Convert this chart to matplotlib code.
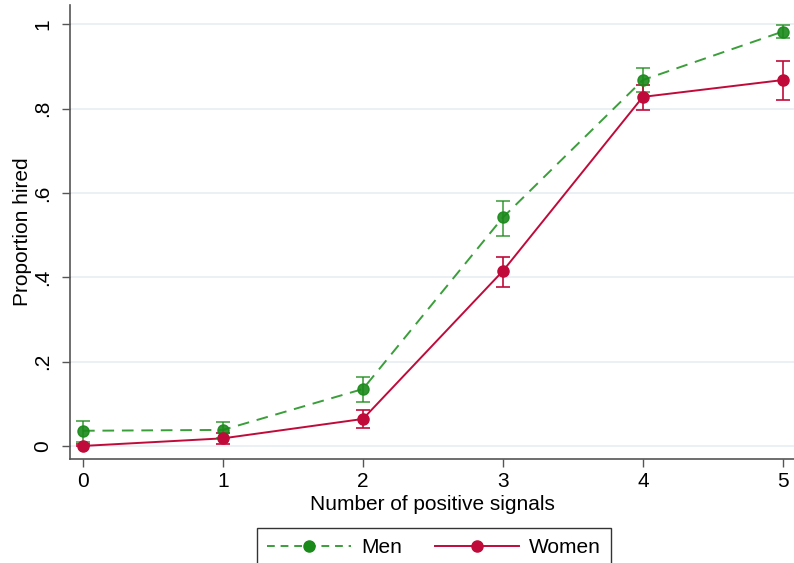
import numpy as np
import matplotlib.pyplot as plt

plt.rcParams["font.family"] = ["Liberation Sans", "DejaVu Sans"]

signals = [0, 1, 2, 3, 4, 5]

men = [0.036, 0.038, 0.135, 0.542, 0.868, 0.983]
men_lo = [0.010, 0.020, 0.104, 0.499, 0.840, 0.967]
men_hi = [0.060, 0.056, 0.164, 0.582, 0.897, 0.999]

women = [0.000, 0.018, 0.064, 0.415, 0.828, 0.868]
women_lo = [0.000, 0.005, 0.043, 0.376, 0.797, 0.821]
women_hi = [0.004, 0.031, 0.085, 0.449, 0.856, 0.913]

yticks = [0, 0.2, 0.4, 0.6, 0.8, 1.0]
ytick_labels = ["0", ".2", ".4", ".6", ".8", "1"]

GREEN = "#1a8a1a"
GREEN_LINE = "#3a9e3a"
RED = "#c00a3a"
FS = 15

W, H = 794, 563
fig = plt.figure(figsize=(W / 100, H / 100), dpi=100)
ax = fig.add_axes([70 / W, 1 - 459 / H, (W - 70) / W, (459 - 5) / H])

men = np.array(men)
women = np.array(women)

ax.errorbar(signals, men,
            yerr=[men - np.array(men_lo), np.array(men_hi) - men],
            fmt="none", ecolor=GREEN, elinewidth=1.2, capsize=5, capthick=1.2,
            alpha=0.8, zorder=3)
ax.plot(signals, men, color=GREEN_LINE, lw=1.4, ls=(0, (6, 4)), zorder=2)
ax.plot(signals, men, "o", color=GREEN, ms=8, alpha=0.9, zorder=4)

ax.errorbar(signals, women,
            yerr=[women - np.array(women_lo), np.array(women_hi) - women],
            fmt="none", ecolor=RED, elinewidth=1.2, capsize=5, capthick=1.2,
            zorder=3)
ax.plot(signals, women, color=RED, lw=1.4, zorder=2)
ax.plot(signals, women, "o", color=RED, ms=8, zorder=4)

# legend handles
h_men, = ax.plot([], [], color=GREEN_LINE, lw=1.4, ls=(0, (4, 3)),
                 marker="o", mfc=GREEN, mec=GREEN, ms=8)
h_women, = ax.plot([], [], color=RED, lw=1.4, marker="o", ms=8)

ax.set_xlim(-0.093, 5.08)
ax.set_ylim(-0.031, 1.046)
ax.set_xticks(signals)
ax.set_yticks(yticks)
ax.set_yticklabels(ytick_labels, rotation=90, va="center")
ax.tick_params(labelsize=FS, length=6, color="#555555", width=1)
ax.tick_params(axis="y", pad=7)
ax.grid(axis="y", color="#e8eef2", lw=1.2)
ax.set_axisbelow(True)

for s in ["top", "right"]:
    ax.spines[s].set_visible(False)
for s in ["left", "bottom"]:
    ax.spines[s].set_color("#555555")
    ax.spines[s].set_linewidth(1.2)

ax.set_xlabel("Number of positive signals", fontsize=FS, labelpad=3)
ax.set_ylabel("Proportion hired", fontsize=FS, labelpad=1)

leg = fig.legend([h_men, h_women], ["Men", "Women"], ncol=2,
                 loc="upper center", bbox_to_anchor=(434 / W, 1 - 528 / H),
                 borderaxespad=0, fontsize=FS, frameon=True, fancybox=False,
                 handlelength=4, handletextpad=0.5, columnspacing=1.6,
                 borderpad=0.5)
leg.get_frame().set_edgecolor("black")
leg.get_frame().set_linewidth(1)

fig.savefig("out.png", dpi=100)
